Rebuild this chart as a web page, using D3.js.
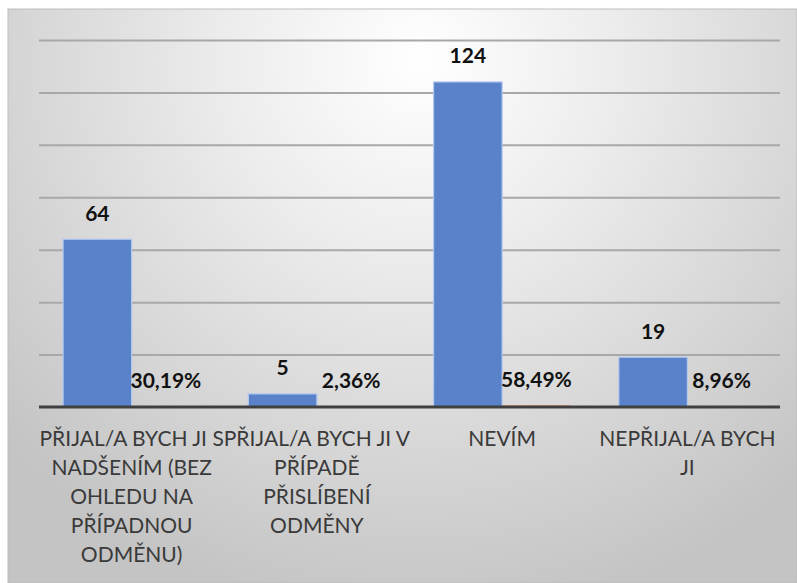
<!DOCTYPE html>
<html>
<head>
<meta charset="utf-8">
<script src="https://cdn.jsdelivr.net/npm/d3@7/dist/d3.min.js"></script>
<style>
  html, body { margin: 0; padding: 0; background: #ffffff; }
  svg { display: block; }
</style>
</head>
<body>
<svg id="chart" width="797" height="583"></svg>
<script>
// ---- data ----
const categories = ["c1", "c2", "c3", "c4"];
const categoryLines = [
  ["PŘIJAL/A BYCH JI S", "NADŠENÍM (BEZ", "OHLEDU NA", "PŘÍPADNOU", "ODMĚNU)"],
  ["PŘIJAL/A BYCH JI V", "PŘÍPADĚ", "PŘISLÍBENÍ", "ODMĚNY"],
  ["NEVÍM"],
  ["NEPŘIJAL/A BYCH", "JI"]
];
const counts = [64, 5, 124, 19];
const percents = [0.3019, 0.0236, 0.5849, 0.0896];
const percentLabels = ["30,19%", "2,36%", "58,49%", "8,96%"];
const series = ["count", "percent"];
const gridTicks = [20, 40, 60, 80, 100, 120, 140];

// ---- layout ----
const W = 797, H = 583;
const plotLeft = 39, plotRight = 780, plotTop = 40, plotBottom = 407;

const svg = d3.select("#chart");
const defs = svg.append("defs");
const grad = defs.append("radialGradient")
  .attr("id", "bg").attr("gradientUnits", "userSpaceOnUse")
  .attr("cx", 420).attr("cy", 60).attr("r", 560);
grad.append("stop").attr("offset", 0).attr("stop-color", "#ffffff");
grad.append("stop").attr("offset", 0.35).attr("stop-color", "#ececec");
grad.append("stop").attr("offset", 1).attr("stop-color", "#c4c4c4");

svg.append("rect").attr("x", 8).attr("y", 9).attr("width", W - 8).attr("height", H - 9)
  .attr("fill", "url(#bg)").attr("stroke", "#bdbdbd").attr("stroke-width", 1);

const y = d3.scaleLinear().domain([0, 140]).range([plotBottom, plotTop]);
const x0 = d3.scaleBand().domain(categories).range([plotLeft, plotRight])
  .paddingInner(0.26).paddingOuter(0.13);
const x1 = d3.scaleBand().domain(series).range([0, x0.bandwidth()]).padding(0);

// gridlines
const gridAxis = d3.axisLeft(y).tickValues(gridTicks).tickSize(-(plotRight - plotLeft)).tickFormat("");
const gg = svg.append("g").attr("transform", `translate(${plotLeft},0)`).call(gridAxis);
gg.select(".domain").remove();
gg.selectAll(".tick line").attr("stroke", "#a8a8a8").attr("stroke-width", 2);

// bars
const groups = svg.append("g").selectAll("g").data(categories).join("g")
  .attr("transform", d => `translate(${x0(d)},0)`);

groups.append("rect")
  .attr("x", x1("count"))
  .attr("width", x1.bandwidth())
  .attr("y", (d, i) => y(counts[i]))
  .attr("height", (d, i) => y(0) - y(counts[i]))
  .attr("fill", "#5a82cb")
  .attr("stroke", "#b3c9ee").attr("stroke-width", 1.2);

groups.append("rect")
  .attr("x", x1("percent"))
  .attr("width", x1.bandwidth())
  .attr("y", (d, i) => y(percents[i]))
  .attr("height", (d, i) => y(0) - y(percents[i]))
  .attr("fill", "#ed7d31");

// baseline axis
const xAxis = d3.axisBottom(x0).tickSize(0).tickFormat("");
const ax = svg.append("g").attr("transform", `translate(0,${plotBottom})`).call(xAxis);
ax.select(".domain").attr("stroke", "#3f3f3f").attr("stroke-width", 3)
  .attr("d", `M${plotLeft},0H${plotRight}`);

// value labels
const labelFont = "Lato, 'Open Sans', sans-serif";
groups.append("text")
  .attr("x", x1("count") + x1.bandwidth() / 2)
  .attr("y", (d, i) => y(counts[i]) - 18.5)
  .attr("text-anchor", "middle")
  .attr("font-family", labelFont).attr("font-weight", 700).attr("font-size", 21)
  .attr("fill", "#111")
  .text((d, i) => counts[i]);

groups.append("text")
  .attr("x", x1("percent") + x1.bandwidth() / 2)
  .attr("y", (d, i) => y(percents[i]) - 18.5)
  .attr("text-anchor", "middle")
  .attr("font-family", labelFont).attr("font-weight", 700).attr("font-size", 21)
  .attr("fill", "#111")
  .text((d, i) => percentLabels[i]);

// category labels
groups.append("text")
  .attr("text-anchor", "middle")
  .attr("font-family", labelFont).attr("font-size", 21)
  .attr("fill", "#3a3a3a")
  .each(function(d, i) {
    const t = d3.select(this);
    categoryLines[i].forEach((line, j) => {
      t.append("tspan")
        .attr("x", x0.bandwidth() / 2)
        .attr("y", plotBottom + 39 + j * 29)
        .text(line);
    });
  });
</script>
</body>
</html>
